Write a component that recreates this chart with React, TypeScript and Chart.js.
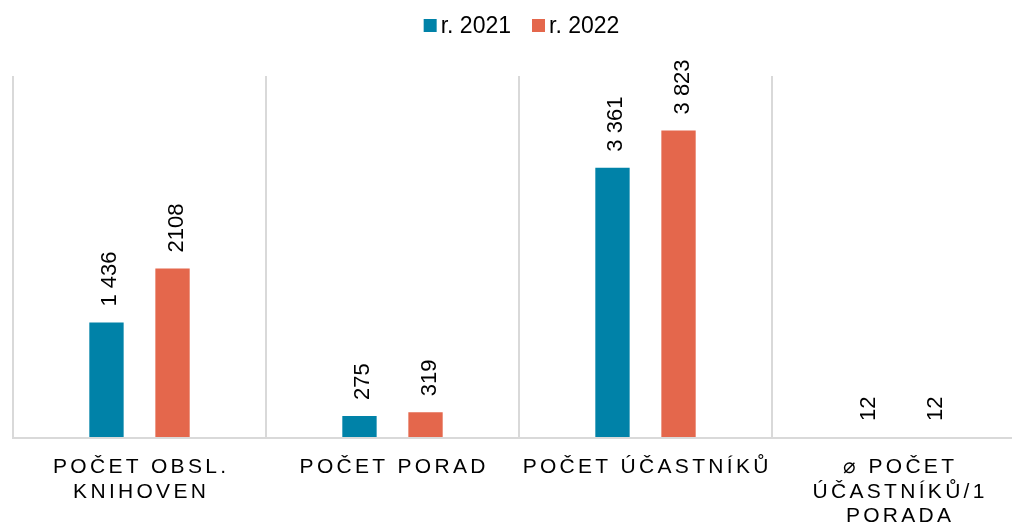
import { useEffect, useRef } from "react";
import { Chart, registerables } from "chart.js";

Chart.register(...registerables);

const categories: string[][] = [
  ["POČET OBSL.", "KNIHOVEN"],
  ["POČET PORAD"],
  ["POČET ÚČASTNÍKŮ"],
  ["⌀ POČET", "ÚČASTNÍKŮ/1", "PORADA"],
];
const seriesNames = ["r. 2021", "r. 2022"];
const values2021 = [1436, 275, 3361, 12];
const values2022 = [2108, 319, 3823, 12];
const labels2021 = ["1 436", "275", "3 361", "12"];
const labels2022 = ["2108", "319", "3 823", "12"];
const seriesColors = ["#0082a8", "#e4674c"];
const valueLabels = [labels2021, labels2022];

const FONT = "'Liberation Sans', Arial, sans-serif";

const legendPlugin = {
  id: "customLegend",
  afterDraw(chart: any) {
    const ctx = chart.ctx as CanvasRenderingContext2D;
    ctx.save();
    ctx.font = `23px ${FONT}`;
    ctx.textBaseline = "alphabetic";
    ctx.textAlign = "left";
    const box = 13;
    const gapBoxText = 4;
    const gapItems = 21;
    const widths = seriesNames.map((n) => ctx.measureText(n).width);
    let total = 0;
    widths.forEach((w, i) => {
      total += box + gapBoxText + w + (i < widths.length - 1 ? gapItems : 0);
    });
    let x = 521.5 - total / 2;
    seriesNames.forEach((n, i) => {
      ctx.fillStyle = seriesColors[i];
      ctx.fillRect(x, 19, box, box);
      ctx.fillStyle = "#000";
      ctx.fillText(n, x + box + gapBoxText, 33);
      x += box + gapBoxText + widths[i] + gapItems;
    });
    ctx.restore();
  },
};

const valueLabelPlugin = {
  id: "valueLabels",
  afterDatasetsDraw(chart: any) {
    const ctx = chart.ctx as CanvasRenderingContext2D;
    const area = chart.chartArea;
    ctx.save();
    // baseline drawn over the bars (hides tiny bars like the reference)
    ctx.strokeStyle = "#d9d9d9";
    ctx.lineWidth = 2;
    ctx.beginPath();
    ctx.moveTo(area.left, Math.round(area.bottom));
    ctx.lineTo(area.right, Math.round(area.bottom));
    ctx.stroke();

    ctx.font = `22px ${FONT}`;
    ctx.fillStyle = "#000";
    ctx.textAlign = "left";
    ctx.textBaseline = "alphabetic";
    chart.data.datasets.forEach((_ds: any, di: number) => {
      const meta = chart.getDatasetMeta(di);
      meta.data.forEach((el: any, i: number) => {
        const txt = valueLabels[di][i];
        ctx.save();
        ctx.translate(el.x + 10, el.y - 16);
        ctx.rotate(-Math.PI / 2);
        ctx.fillText(txt, 0, 0);
        ctx.restore();
      });
    });
    ctx.restore();
  },
};

const xLabelPlugin = {
  id: "xLabels",
  afterDraw(chart: any) {
    const ctx = chart.ctx as CanvasRenderingContext2D;
    const xs = chart.scales.x;
    const spacing = 3.3;
    ctx.save();
    ctx.font = `21px ${FONT}`;
    (ctx as any).letterSpacing = `${spacing}px`;
    ctx.fillStyle = "#000";
    ctx.textAlign = "center";
    ctx.textBaseline = "alphabetic";
    categories.forEach((lines, i) => {
      const cx = xs.getPixelForValue(i) + spacing / 2;
      lines.forEach((line, li) => {
        ctx.fillText(line, cx, 473 + li * 24.5);
      });
    });
    ctx.restore();
  },
};

export default function App() {
  const ref = useRef<HTMLCanvasElement>(null);
  useEffect(() => {
    const chart = new Chart(ref.current as HTMLCanvasElement, {
      type: "bar",
      data: {
        labels: categories,
        datasets: [
          { label: seriesNames[0], data: values2021, backgroundColor: seriesColors[0] },
          { label: seriesNames[1], data: values2022, backgroundColor: seriesColors[1] },
        ],
      },
      options: {
        animation: false,
        responsive: true,
        maintainAspectRatio: false,
        layout: { padding: { left: 13, right: 1, top: 76, bottom: 88 } },
        datasets: { bar: { categoryPercentage: 0.522, barPercentage: 0.52 } },
        plugins: { legend: { display: false }, tooltip: { enabled: false } },
        scales: {
          x: {
            grid: { offset: true, color: "#d9d9d9", lineWidth: 2, drawTicks: false },
            border: { color: "#d9d9d9", width: 2 },
            ticks: { display: false },
          },
          y: { display: false, min: 0, max: 4500 },
        },
      } as any,
      plugins: [legendPlugin, valueLabelPlugin, xLabelPlugin],
    });
    return () => chart.destroy();
  }, []);
  return (
    <div
      style={{
        position: "fixed",
        left: 0,
        top: 0,
        width: 1012,
        height: 526,
        overflow: "hidden",
        background: "#fff",
      }}
    >
      <div style={{ position: "relative", width: 1026, height: 526 }}>
        <canvas ref={ref} />
      </div>
    </div>
  );
}
